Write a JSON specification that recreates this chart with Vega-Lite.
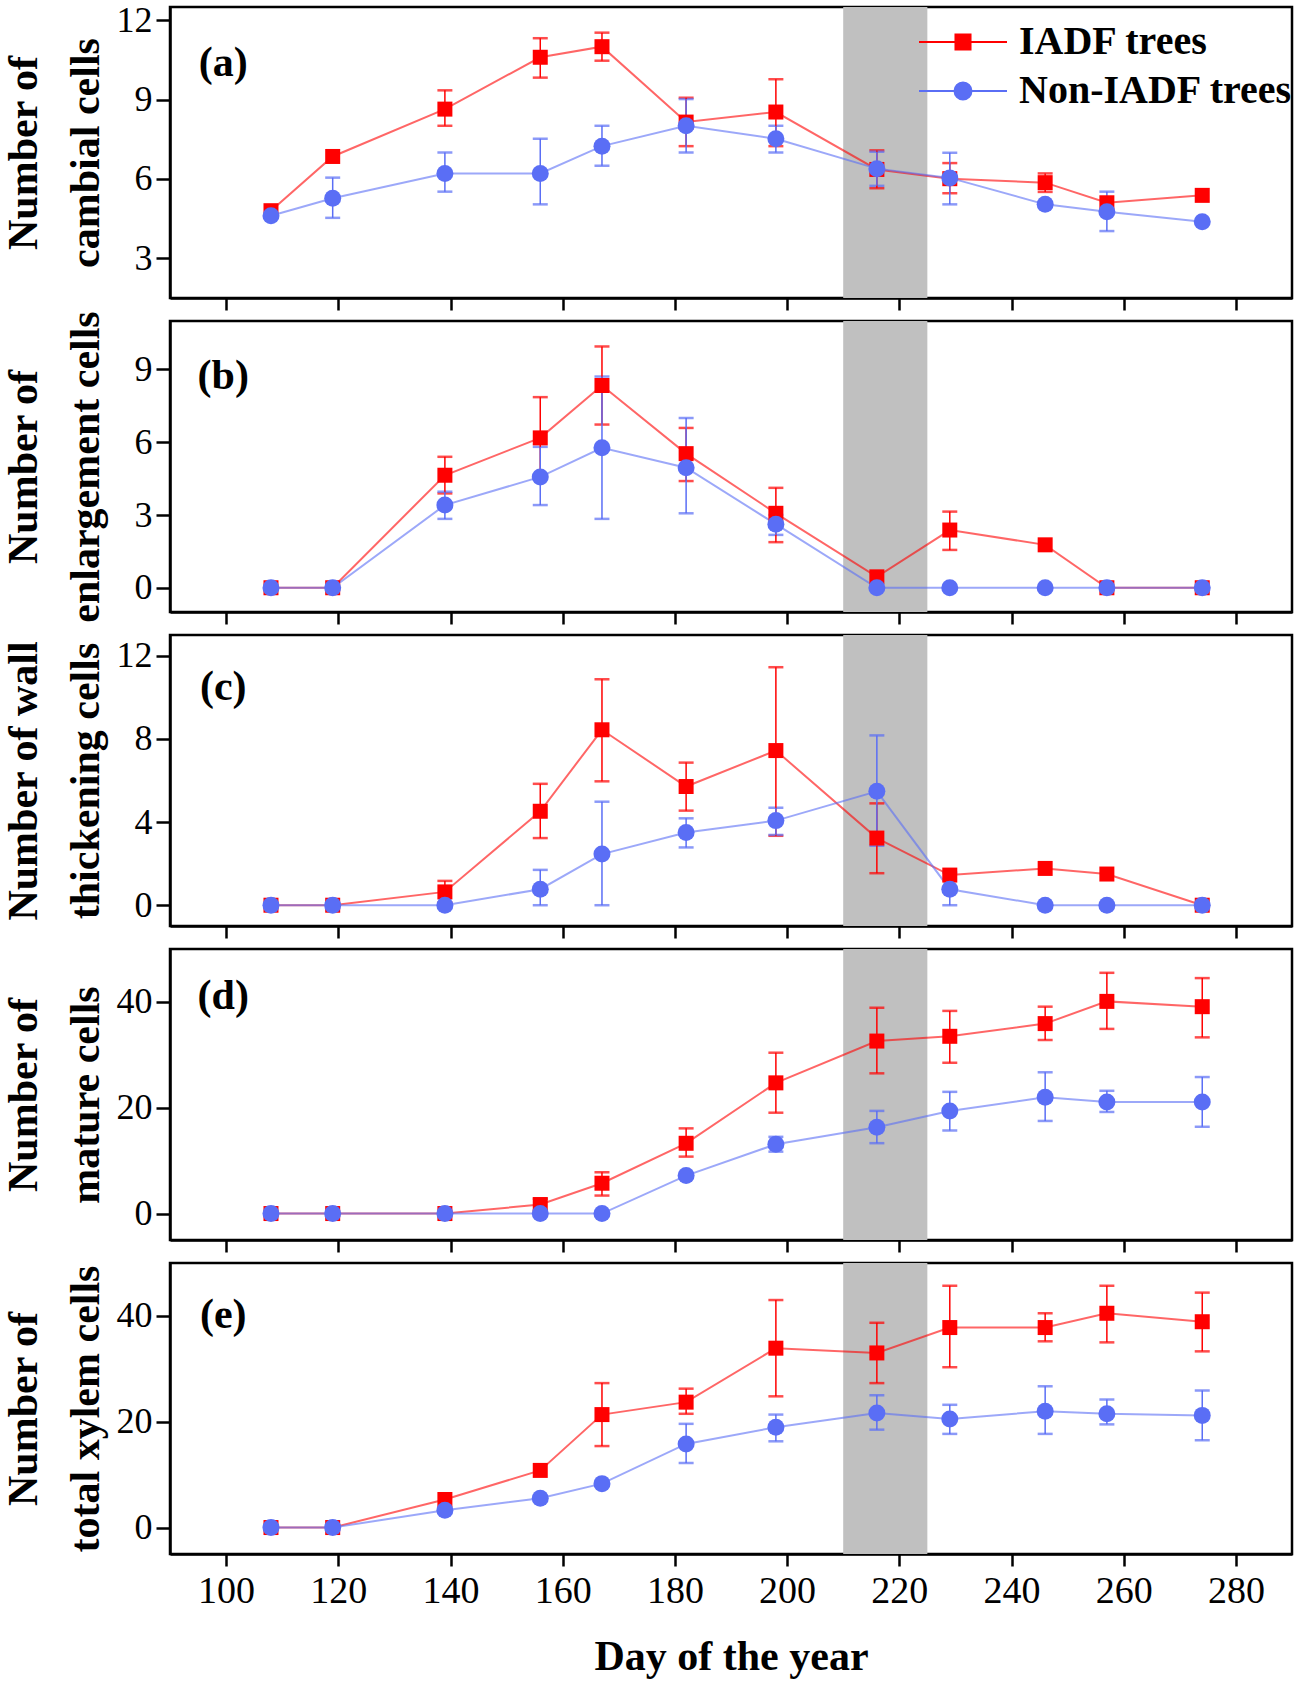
{
  "$schema": "https://vega.github.io/schema/vega-lite/v6.json",
  "background": "white",
  "padding": {"left": 0, "top": 0, "right": 5, "bottom": 5},
  "config": {
    "font": "Liberation Serif",
    "view": {"stroke": "black", "strokeWidth": 2.5},
    "axis": {"domainColor": "black", "domainWidth": 2.5, "tickColor": "black", "tickWidth": 2.5, "grid": false,
      "labelFont": "Liberation Serif", "labelFontSize": 36, "labelColor": "black", "labelFlush": false,
      "titleFont": "Liberation Serif", "titleFontSize": 42, "titleFontWeight": "bold", "titleColor": "black"},
    "axisY": {"tickSize": 14, "labelPadding": 4, "titleLineHeight": 62, "titleX": -134, "titleBaseline": "alphabetic"},
    "axisX": {"tickSize": 12, "labelPadding": 6, "labelFontSize": 38, "titlePadding": 26}
  },
  "data": {"values": [
    {"panel": "a", "day": 108, "series": "IADF trees", "value": 4.8},
    {"panel": "a", "day": 119, "series": "IADF trees", "value": 6.85},
    {"panel": "a", "day": 139, "series": "IADF trees", "value": 8.64, "lo": 8.01, "hi": 9.35},
    {"panel": "a", "day": 156, "series": "IADF trees", "value": 10.6, "lo": 9.83, "hi": 11.32},
    {"panel": "a", "day": 167, "series": "IADF trees", "value": 11.0, "lo": 10.47, "hi": 11.53},
    {"panel": "a", "day": 182, "series": "IADF trees", "value": 8.15, "lo": 7.24, "hi": 9.07},
    {"panel": "a", "day": 198, "series": "IADF trees", "value": 8.53, "lo": 7.24, "hi": 9.77},
    {"panel": "a", "day": 216, "series": "IADF trees", "value": 6.36, "lo": 5.65, "hi": 7.08},
    {"panel": "a", "day": 229, "series": "IADF trees", "value": 6.01, "lo": 5.46, "hi": 6.6},
    {"panel": "a", "day": 246, "series": "IADF trees", "value": 5.86, "lo": 5.51, "hi": 6.21},
    {"panel": "a", "day": 257, "series": "IADF trees", "value": 5.1},
    {"panel": "a", "day": 274, "series": "IADF trees", "value": 5.38},
    {"panel": "a", "day": 108, "series": "Non-IADF trees", "value": 4.61},
    {"panel": "a", "day": 119, "series": "Non-IADF trees", "value": 5.27, "lo": 4.53, "hi": 6.05},
    {"panel": "a", "day": 139, "series": "Non-IADF trees", "value": 6.21, "lo": 5.52, "hi": 7.0},
    {"panel": "a", "day": 156, "series": "Non-IADF trees", "value": 6.21, "lo": 5.04, "hi": 7.52},
    {"panel": "a", "day": 167, "series": "Non-IADF trees", "value": 7.24, "lo": 6.5, "hi": 8.01},
    {"panel": "a", "day": 182, "series": "Non-IADF trees", "value": 8.01, "lo": 7.0, "hi": 9.02},
    {"panel": "a", "day": 198, "series": "Non-IADF trees", "value": 7.52, "lo": 7.0, "hi": 8.01},
    {"panel": "a", "day": 216, "series": "Non-IADF trees", "value": 6.39, "lo": 5.74, "hi": 7.03},
    {"panel": "a", "day": 229, "series": "Non-IADF trees", "value": 6.04, "lo": 5.04, "hi": 6.99},
    {"panel": "a", "day": 246, "series": "Non-IADF trees", "value": 5.04},
    {"panel": "a", "day": 257, "series": "Non-IADF trees", "value": 4.76, "lo": 4.03, "hi": 5.52},
    {"panel": "a", "day": 274, "series": "Non-IADF trees", "value": 4.38},

    {"panel": "b", "day": 108, "series": "IADF trees", "value": 0},
    {"panel": "b", "day": 119, "series": "IADF trees", "value": 0},
    {"panel": "b", "day": 139, "series": "IADF trees", "value": 4.64, "lo": 3.89, "hi": 5.4},
    {"panel": "b", "day": 156, "series": "IADF trees", "value": 6.18, "lo": 4.51, "hi": 7.86},
    {"panel": "b", "day": 167, "series": "IADF trees", "value": 8.34, "lo": 6.73, "hi": 9.95},
    {"panel": "b", "day": 182, "series": "IADF trees", "value": 5.53, "lo": 4.4, "hi": 6.59},
    {"panel": "b", "day": 198, "series": "IADF trees", "value": 3.07, "lo": 1.88, "hi": 4.12},
    {"panel": "b", "day": 216, "series": "IADF trees", "value": 0.45},
    {"panel": "b", "day": 229, "series": "IADF trees", "value": 2.38, "lo": 1.56, "hi": 3.14},
    {"panel": "b", "day": 246, "series": "IADF trees", "value": 1.77},
    {"panel": "b", "day": 257, "series": "IADF trees", "value": 0},
    {"panel": "b", "day": 274, "series": "IADF trees", "value": 0},
    {"panel": "b", "day": 108, "series": "Non-IADF trees", "value": 0},
    {"panel": "b", "day": 119, "series": "Non-IADF trees", "value": 0},
    {"panel": "b", "day": 139, "series": "Non-IADF trees", "value": 3.41, "lo": 2.84, "hi": 3.96},
    {"panel": "b", "day": 156, "series": "Non-IADF trees", "value": 4.57, "lo": 3.41, "hi": 5.81},
    {"panel": "b", "day": 167, "series": "Non-IADF trees", "value": 5.77, "lo": 2.84, "hi": 8.71},
    {"panel": "b", "day": 182, "series": "Non-IADF trees", "value": 4.95, "lo": 3.07, "hi": 7.0},
    {"panel": "b", "day": 198, "series": "Non-IADF trees", "value": 2.62, "lo": 2.18, "hi": 3.0},
    {"panel": "b", "day": 216, "series": "Non-IADF trees", "value": 0},
    {"panel": "b", "day": 229, "series": "Non-IADF trees", "value": 0},
    {"panel": "b", "day": 246, "series": "Non-IADF trees", "value": 0},
    {"panel": "b", "day": 257, "series": "Non-IADF trees", "value": 0},
    {"panel": "b", "day": 274, "series": "Non-IADF trees", "value": 0},

    {"panel": "c", "day": 108, "series": "IADF trees", "value": 0},
    {"panel": "c", "day": 119, "series": "IADF trees", "value": 0},
    {"panel": "c", "day": 139, "series": "IADF trees", "value": 0.64, "lo": 0.13, "hi": 1.17},
    {"panel": "c", "day": 156, "series": "IADF trees", "value": 4.52, "lo": 3.23, "hi": 5.84},
    {"panel": "c", "day": 167, "series": "IADF trees", "value": 8.44, "lo": 5.96, "hi": 10.87},
    {"panel": "c", "day": 182, "series": "IADF trees", "value": 5.71, "lo": 4.55, "hi": 6.86},
    {"panel": "c", "day": 198, "series": "IADF trees", "value": 7.44, "lo": 3.34, "hi": 11.45},
    {"panel": "c", "day": 216, "series": "IADF trees", "value": 3.23, "lo": 1.54, "hi": 4.9},
    {"panel": "c", "day": 229, "series": "IADF trees", "value": 1.45},
    {"panel": "c", "day": 246, "series": "IADF trees", "value": 1.77},
    {"panel": "c", "day": 257, "series": "IADF trees", "value": 1.5},
    {"panel": "c", "day": 274, "series": "IADF trees", "value": 0},
    {"panel": "c", "day": 108, "series": "Non-IADF trees", "value": 0},
    {"panel": "c", "day": 119, "series": "Non-IADF trees", "value": 0},
    {"panel": "c", "day": 139, "series": "Non-IADF trees", "value": 0},
    {"panel": "c", "day": 156, "series": "Non-IADF trees", "value": 0.77, "lo": 0, "hi": 1.7},
    {"panel": "c", "day": 167, "series": "Non-IADF trees", "value": 2.46, "lo": 0, "hi": 4.98},
    {"panel": "c", "day": 182, "series": "Non-IADF trees", "value": 3.5, "lo": 2.78, "hi": 4.18},
    {"panel": "c", "day": 198, "series": "Non-IADF trees", "value": 4.07, "lo": 3.38, "hi": 4.69},
    {"panel": "c", "day": 216, "series": "Non-IADF trees", "value": 5.48, "lo": 2.86, "hi": 8.17},
    {"panel": "c", "day": 229, "series": "Non-IADF trees", "value": 0.77, "lo": 0, "hi": 1.57},
    {"panel": "c", "day": 246, "series": "Non-IADF trees", "value": 0},
    {"panel": "c", "day": 257, "series": "Non-IADF trees", "value": 0},
    {"panel": "c", "day": 274, "series": "Non-IADF trees", "value": 0},

    {"panel": "d", "day": 108, "series": "IADF trees", "value": 0},
    {"panel": "d", "day": 119, "series": "IADF trees", "value": 0},
    {"panel": "d", "day": 139, "series": "IADF trees", "value": 0},
    {"panel": "d", "day": 156, "series": "IADF trees", "value": 1.7, "lo": 0.6, "hi": 2.8},
    {"panel": "d", "day": 167, "series": "IADF trees", "value": 5.73, "lo": 3.4, "hi": 7.8},
    {"panel": "d", "day": 182, "series": "IADF trees", "value": 13.28, "lo": 10.76, "hi": 16.1},
    {"panel": "d", "day": 198, "series": "IADF trees", "value": 24.7, "lo": 19.06, "hi": 30.4},
    {"panel": "d", "day": 216, "series": "IADF trees", "value": 32.6, "lo": 26.5, "hi": 38.9},
    {"panel": "d", "day": 229, "series": "IADF trees", "value": 33.5, "lo": 28.5, "hi": 38.3},
    {"panel": "d", "day": 246, "series": "IADF trees", "value": 35.9, "lo": 32.8, "hi": 39.1},
    {"panel": "d", "day": 257, "series": "IADF trees", "value": 40.1, "lo": 34.9, "hi": 45.5},
    {"panel": "d", "day": 274, "series": "IADF trees", "value": 39.1, "lo": 33.3, "hi": 44.5},
    {"panel": "d", "day": 108, "series": "Non-IADF trees", "value": 0},
    {"panel": "d", "day": 119, "series": "Non-IADF trees", "value": 0},
    {"panel": "d", "day": 139, "series": "Non-IADF trees", "value": 0},
    {"panel": "d", "day": 156, "series": "Non-IADF trees", "value": 0},
    {"panel": "d", "day": 167, "series": "Non-IADF trees", "value": 0},
    {"panel": "d", "day": 182, "series": "Non-IADF trees", "value": 7.18},
    {"panel": "d", "day": 198, "series": "Non-IADF trees", "value": 13.1, "lo": 11.7, "hi": 14.5},
    {"panel": "d", "day": 216, "series": "Non-IADF trees", "value": 16.3, "lo": 13.3, "hi": 19.4},
    {"panel": "d", "day": 229, "series": "Non-IADF trees", "value": 19.4, "lo": 15.7, "hi": 23.0},
    {"panel": "d", "day": 246, "series": "Non-IADF trees", "value": 21.96, "lo": 17.5, "hi": 26.7},
    {"panel": "d", "day": 257, "series": "Non-IADF trees", "value": 21.1, "lo": 19.2, "hi": 23.2},
    {"panel": "d", "day": 274, "series": "Non-IADF trees", "value": 21.1, "lo": 16.4, "hi": 25.8},

    {"panel": "e", "day": 108, "series": "IADF trees", "value": 0},
    {"panel": "e", "day": 119, "series": "IADF trees", "value": 0},
    {"panel": "e", "day": 139, "series": "IADF trees", "value": 5.3},
    {"panel": "e", "day": 156, "series": "IADF trees", "value": 10.8},
    {"panel": "e", "day": 167, "series": "IADF trees", "value": 21.35, "lo": 15.4, "hi": 27.3},
    {"panel": "e", "day": 182, "series": "IADF trees", "value": 23.7, "lo": 21.5, "hi": 26.25},
    {"panel": "e", "day": 198, "series": "IADF trees", "value": 33.9, "lo": 24.8, "hi": 43.0},
    {"panel": "e", "day": 216, "series": "IADF trees", "value": 33.0, "lo": 27.3, "hi": 38.7},
    {"panel": "e", "day": 229, "series": "IADF trees", "value": 37.8, "lo": 30.3, "hi": 45.7},
    {"panel": "e", "day": 246, "series": "IADF trees", "value": 37.8, "lo": 35.2, "hi": 40.5},
    {"panel": "e", "day": 257, "series": "IADF trees", "value": 40.5, "lo": 35.0, "hi": 45.7},
    {"panel": "e", "day": 274, "series": "IADF trees", "value": 38.9, "lo": 33.3, "hi": 44.4},
    {"panel": "e", "day": 108, "series": "Non-IADF trees", "value": 0},
    {"panel": "e", "day": 119, "series": "Non-IADF trees", "value": 0},
    {"panel": "e", "day": 139, "series": "Non-IADF trees", "value": 3.27},
    {"panel": "e", "day": 156, "series": "Non-IADF trees", "value": 5.53},
    {"panel": "e", "day": 167, "series": "Non-IADF trees", "value": 8.3},
    {"panel": "e", "day": 182, "series": "Non-IADF trees", "value": 15.8, "lo": 12.2, "hi": 19.6},
    {"panel": "e", "day": 198, "series": "Non-IADF trees", "value": 18.96, "lo": 16.3, "hi": 21.35},
    {"panel": "e", "day": 216, "series": "Non-IADF trees", "value": 21.66, "lo": 18.5, "hi": 25.0},
    {"panel": "e", "day": 229, "series": "Non-IADF trees", "value": 20.5, "lo": 17.7, "hi": 23.2},
    {"panel": "e", "day": 246, "series": "Non-IADF trees", "value": 22.0, "lo": 17.7, "hi": 26.7},
    {"panel": "e", "day": 257, "series": "Non-IADF trees", "value": 21.5, "lo": 19.5, "hi": 24.2},
    {"panel": "e", "day": 274, "series": "Non-IADF trees", "value": 21.2, "lo": 16.5, "hi": 25.9}
  ]},
  "spacing": 23,
  "bounds": "flush",
  "resolve": {"scale": {"color": "independent", "y": "independent", "x": "independent"}},
  "vconcat": [
    {
      "width": 1122, "height": 291,
      "transform": [{"filter": "datum.panel === 'a'"}],
      "encoding": {
        "x": {"field": "day", "type": "quantitative", "scale": {"domain": [90, 290], "nice": false, "zero": false}, "axis": {"values": [100, 120, 140, 160, 180, 200, 220, 240, 260, 280], "labels": false, "title": null}},
        "y": {"field": "value", "type": "quantitative", "scale": {"domain": [1.5, 12.5], "nice": false, "zero": false}, "axis": {"values": [3, 6, 9, 12], "title": ["Number of", "cambial cells"]}},
        "color": {"field": "series", "type": "nominal", "scale": {"domain": ["IADF trees", "Non-IADF trees"], "range": ["#FF0000", "#5A6EF5"]},
          "legend": {"title": null, "orient": "none", "legendX": 773, "legendY": 15, "padding": 0, "labelFont": "Liberation Serif", "labelFontSize": 40, "labelFontWeight": "bold", "labelColor": "black", "labelLimit": 400, "labelOffset": 36, "rowPadding": 9, "symbolSize": 256, "symbolStrokeWidth": 2,
            "encode": {"symbols": {"update": {
              "shape": {"signal": "datum.value === 'IADF trees' ? 'M-5.5,0H5.5M-0.94,-0.94H0.94V0.94H-0.94Z' : 'M-5.5,0H5.5M1.06,0A1.06,1.06,0,1,1,-1.06,0A1.06,1.06,0,1,1,1.06,0Z'"},
              "size": {"value": 256},
              "stroke": {"signal": "datum.value === 'IADF trees' ? '#FF6A6A' : '#5A6EF5'"},
              "fill": {"signal": "datum.value === 'IADF trees' ? '#FF0000' : '#5A6EF5'"},
              "strokeWidth": {"value": 2},
              "opacity": {"value": 1}}}}}}
      },
      "layer": [
        {"transform": [{"filter": "datum.day === 108 && datum.series === 'IADF trees'"}], "mark": {"type": "rect", "color": "#C0C0C0"},
          "encoding": {"x": {"datum": 210, "type": "quantitative"}, "x2": {"datum": 225}, "y": {"datum": 1.5, "type": "quantitative"}, "y2": {"datum": 12.5}, "color": {"value": "#C0C0C0"}}},
        {"mark": {"type": "line", "strokeWidth": 2, "opacity": 0.6}},
        {"transform": [{"filter": "isValid(datum.lo)"}], "mark": {"type": "errorbar", "ticks": {"size": 15, "thickness": 2.5}, "rule": {"strokeWidth": 1.5}},
          "encoding": {"y": {"field": "lo", "type": "quantitative"}, "y2": {"field": "hi"}}},
        {"transform": [{"filter": "datum.series === 'IADF trees'"}], "mark": {"type": "point", "filled": true, "shape": "square", "size": 225, "opacity": 1}},
        {"transform": [{"filter": "datum.series === 'Non-IADF trees'"}], "mark": {"type": "point", "filled": true, "shape": "circle", "size": 289, "opacity": 1}},
        {"transform": [{"filter": "datum.day === 108 && datum.series === 'IADF trees'"}], "mark": {"type": "text", "text": "(a)", "fontSize": 42, "fontWeight": "bold", "font": "Liberation Serif", "align": "center", "baseline": "middle"},
          "encoding": {"x": {"datum": 99.5, "type": "quantitative"}, "y": {"datum": 10.4, "type": "quantitative"}, "color": {"value": "black"}}}
      ]
    },
    {
      "width": 1122, "height": 291,
      "transform": [{"filter": "datum.panel === 'b'"}],
      "encoding": {
        "x": {"field": "day", "type": "quantitative", "scale": {"domain": [90, 290], "nice": false, "zero": false}, "axis": {"values": [100, 120, 140, 160, 180, 200, 220, 240, 260, 280], "labels": false, "title": null}},
        "y": {"field": "value", "type": "quantitative", "scale": {"domain": [-1, 11], "nice": false, "zero": false}, "axis": {"values": [0, 3, 6, 9], "title": ["Number of", "enlargement cells"]}},
        "color": {"field": "series", "type": "nominal", "scale": {"domain": ["IADF trees", "Non-IADF trees"], "range": ["#FF0000", "#5A6EF5"]}, "legend": null}
      },
      "layer": [
        {"transform": [{"filter": "datum.day === 108 && datum.series === 'IADF trees'"}], "mark": {"type": "rect", "color": "#C0C0C0"},
          "encoding": {"x": {"datum": 210, "type": "quantitative"}, "x2": {"datum": 225}, "y": {"datum": -1, "type": "quantitative"}, "y2": {"datum": 11}, "color": {"value": "#C0C0C0"}}},
        {"mark": {"type": "line", "strokeWidth": 2, "opacity": 0.6}},
        {"transform": [{"filter": "isValid(datum.lo)"}], "mark": {"type": "errorbar", "ticks": {"size": 15, "thickness": 2.5}, "rule": {"strokeWidth": 1.5}},
          "encoding": {"y": {"field": "lo", "type": "quantitative"}, "y2": {"field": "hi"}}},
        {"transform": [{"filter": "datum.series === 'IADF trees'"}], "mark": {"type": "point", "filled": true, "shape": "square", "size": 225, "opacity": 1}},
        {"transform": [{"filter": "datum.series === 'Non-IADF trees'"}], "mark": {"type": "point", "filled": true, "shape": "circle", "size": 289, "opacity": 1}},
        {"transform": [{"filter": "datum.day === 108 && datum.series === 'IADF trees'"}], "mark": {"type": "text", "text": "(b)", "fontSize": 42, "fontWeight": "bold", "font": "Liberation Serif", "align": "center", "baseline": "middle"},
          "encoding": {"x": {"datum": 99.5, "type": "quantitative"}, "y": {"datum": 8.73, "type": "quantitative"}, "color": {"value": "black"}}}
      ]
    },
    {
      "width": 1122, "height": 291,
      "transform": [{"filter": "datum.panel === 'c'"}],
      "encoding": {
        "x": {"field": "day", "type": "quantitative", "scale": {"domain": [90, 290], "nice": false, "zero": false}, "axis": {"values": [100, 120, 140, 160, 180, 200, 220, 240, 260, 280], "labels": false, "title": null}},
        "y": {"field": "value", "type": "quantitative", "scale": {"domain": [-1, 13], "nice": false, "zero": false}, "axis": {"values": [0, 4, 8, 12], "title": ["Number of wall", "thickening cells"]}},
        "color": {"field": "series", "type": "nominal", "scale": {"domain": ["IADF trees", "Non-IADF trees"], "range": ["#FF0000", "#5A6EF5"]}, "legend": null}
      },
      "layer": [
        {"transform": [{"filter": "datum.day === 108 && datum.series === 'IADF trees'"}], "mark": {"type": "rect", "color": "#C0C0C0"},
          "encoding": {"x": {"datum": 210, "type": "quantitative"}, "x2": {"datum": 225}, "y": {"datum": -1, "type": "quantitative"}, "y2": {"datum": 13}, "color": {"value": "#C0C0C0"}}},
        {"mark": {"type": "line", "strokeWidth": 2, "opacity": 0.6}},
        {"transform": [{"filter": "isValid(datum.lo)"}], "mark": {"type": "errorbar", "ticks": {"size": 15, "thickness": 2.5}, "rule": {"strokeWidth": 1.5}},
          "encoding": {"y": {"field": "lo", "type": "quantitative"}, "y2": {"field": "hi"}}},
        {"transform": [{"filter": "datum.series === 'IADF trees'"}], "mark": {"type": "point", "filled": true, "shape": "square", "size": 225, "opacity": 1}},
        {"transform": [{"filter": "datum.series === 'Non-IADF trees'"}], "mark": {"type": "point", "filled": true, "shape": "circle", "size": 289, "opacity": 1}},
        {"transform": [{"filter": "datum.day === 108 && datum.series === 'IADF trees'"}], "mark": {"type": "text", "text": "(c)", "fontSize": 42, "fontWeight": "bold", "font": "Liberation Serif", "align": "center", "baseline": "middle"},
          "encoding": {"x": {"datum": 99.5, "type": "quantitative"}, "y": {"datum": 10.48, "type": "quantitative"}, "color": {"value": "black"}}}
      ]
    },
    {
      "width": 1122, "height": 291,
      "transform": [{"filter": "datum.panel === 'd'"}],
      "encoding": {
        "x": {"field": "day", "type": "quantitative", "scale": {"domain": [90, 290], "nice": false, "zero": false}, "axis": {"values": [100, 120, 140, 160, 180, 200, 220, 240, 260, 280], "labels": false, "title": null}},
        "y": {"field": "value", "type": "quantitative", "scale": {"domain": [-5, 50], "nice": false, "zero": false}, "axis": {"values": [0, 20, 40], "title": ["Number of", "mature cells"]}},
        "color": {"field": "series", "type": "nominal", "scale": {"domain": ["IADF trees", "Non-IADF trees"], "range": ["#FF0000", "#5A6EF5"]}, "legend": null}
      },
      "layer": [
        {"transform": [{"filter": "datum.day === 108 && datum.series === 'IADF trees'"}], "mark": {"type": "rect", "color": "#C0C0C0"},
          "encoding": {"x": {"datum": 210, "type": "quantitative"}, "x2": {"datum": 225}, "y": {"datum": -5, "type": "quantitative"}, "y2": {"datum": 50}, "color": {"value": "#C0C0C0"}}},
        {"mark": {"type": "line", "strokeWidth": 2, "opacity": 0.6}},
        {"transform": [{"filter": "isValid(datum.lo)"}], "mark": {"type": "errorbar", "ticks": {"size": 15, "thickness": 2.5}, "rule": {"strokeWidth": 1.5}},
          "encoding": {"y": {"field": "lo", "type": "quantitative"}, "y2": {"field": "hi"}}},
        {"transform": [{"filter": "datum.series === 'IADF trees'"}], "mark": {"type": "point", "filled": true, "shape": "square", "size": 225, "opacity": 1}},
        {"transform": [{"filter": "datum.series === 'Non-IADF trees'"}], "mark": {"type": "point", "filled": true, "shape": "circle", "size": 289, "opacity": 1}},
        {"transform": [{"filter": "datum.day === 108 && datum.series === 'IADF trees'"}], "mark": {"type": "text", "text": "(d)", "fontSize": 42, "fontWeight": "bold", "font": "Liberation Serif", "align": "center", "baseline": "middle"},
          "encoding": {"x": {"datum": 99.5, "type": "quantitative"}, "y": {"datum": 41.2, "type": "quantitative"}, "color": {"value": "black"}}}
      ]
    },
    {
      "width": 1122, "height": 291,
      "transform": [{"filter": "datum.panel === 'e'"}],
      "encoding": {
        "x": {"field": "day", "type": "quantitative", "scale": {"domain": [90, 290], "nice": false, "zero": false}, "axis": {"values": [100, 120, 140, 160, 180, 200, 220, 240, 260, 280], "title": "Day of the year"}},
        "y": {"field": "value", "type": "quantitative", "scale": {"domain": [-5, 50], "nice": false, "zero": false}, "axis": {"values": [0, 20, 40], "title": ["Number of", "total xylem cells"]}},
        "color": {"field": "series", "type": "nominal", "scale": {"domain": ["IADF trees", "Non-IADF trees"], "range": ["#FF0000", "#5A6EF5"]}, "legend": null}
      },
      "layer": [
        {"transform": [{"filter": "datum.day === 108 && datum.series === 'IADF trees'"}], "mark": {"type": "rect", "color": "#C0C0C0"},
          "encoding": {"x": {"datum": 210, "type": "quantitative"}, "x2": {"datum": 225}, "y": {"datum": -5, "type": "quantitative"}, "y2": {"datum": 50}, "color": {"value": "#C0C0C0"}}},
        {"mark": {"type": "line", "strokeWidth": 2, "opacity": 0.6}},
        {"transform": [{"filter": "isValid(datum.lo)"}], "mark": {"type": "errorbar", "ticks": {"size": 15, "thickness": 2.5}, "rule": {"strokeWidth": 1.5}},
          "encoding": {"y": {"field": "lo", "type": "quantitative"}, "y2": {"field": "hi"}}},
        {"transform": [{"filter": "datum.series === 'IADF trees'"}], "mark": {"type": "point", "filled": true, "shape": "square", "size": 225, "opacity": 1}},
        {"transform": [{"filter": "datum.series === 'Non-IADF trees'"}], "mark": {"type": "point", "filled": true, "shape": "circle", "size": 289, "opacity": 1}},
        {"transform": [{"filter": "datum.day === 108 && datum.series === 'IADF trees'"}], "mark": {"type": "text", "text": "(e)", "fontSize": 42, "fontWeight": "bold", "font": "Liberation Serif", "align": "center", "baseline": "middle"},
          "encoding": {"x": {"datum": 99.5, "type": "quantitative"}, "y": {"datum": 40.2, "type": "quantitative"}, "color": {"value": "black"}}}
      ]
    }
  ]
}
